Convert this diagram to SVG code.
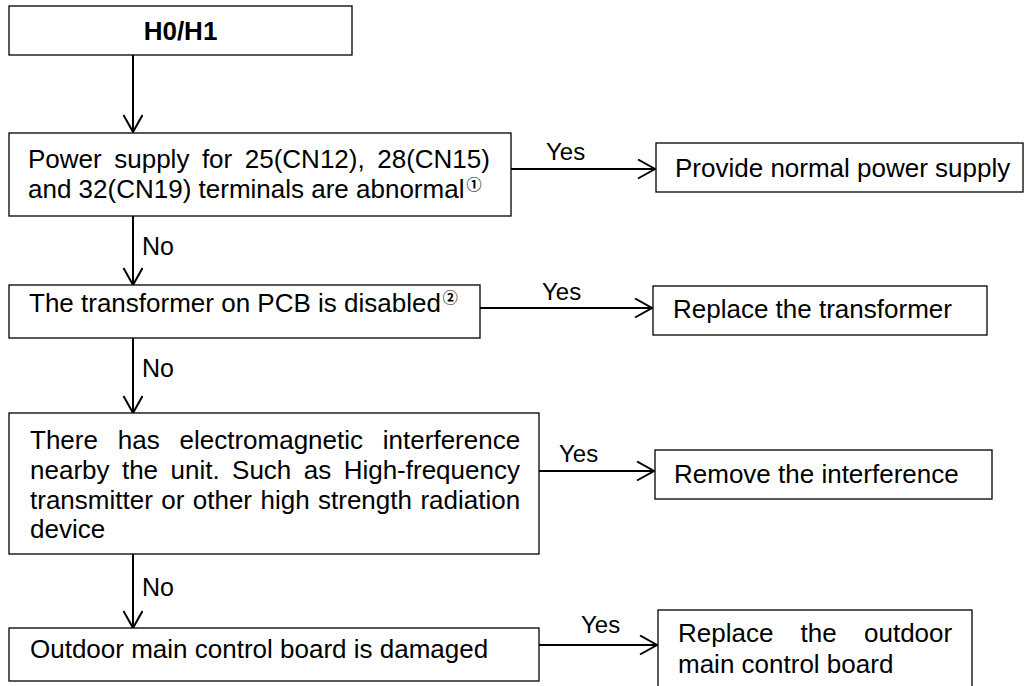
<svg xmlns="http://www.w3.org/2000/svg" width="1027" height="686" viewBox="0 0 1027 686">
<style>
.box{fill:#fff;stroke:#000;stroke-width:1.3}
.t{font-family:"Liberation Sans",Arial,sans-serif;font-size:26px;fill:#000}
.b{font-weight:bold}
.lbl{font-family:"Liberation Sans",Arial,sans-serif;font-size:24px;fill:#000}
.no{font-family:"Liberation Sans",Arial,sans-serif;font-size:25px;fill:#000}
.sup{font-family:"Noto Sans CJK SC","DejaVu Sans",sans-serif;font-size:15px;font-weight:bold}
.c{fill:none;stroke:#000;stroke-width:2}
</style>
<defs>
<marker id="arr" markerUnits="userSpaceOnUse" markerWidth="22" markerHeight="22" refX="18" refY="10" orient="auto" viewBox="0 0 22 22">
<path d="M1,0.5 L18,10 L1,19.5" fill="none" stroke="#000" stroke-width="2"/>
</marker>
</defs>
<g id="connectors">
<line class="c" x1="133" y1="55" x2="133" y2="132" marker-end="url(#arr)"/>
<line class="c" x1="133" y1="216" x2="133" y2="285" marker-end="url(#arr)"/>
<line class="c" x1="133" y1="338" x2="133" y2="413" marker-end="url(#arr)"/>
<line class="c" x1="133" y1="554" x2="133" y2="628" marker-end="url(#arr)"/>
<line class="c" x1="511" y1="169" x2="655" y2="169" marker-end="url(#arr)"/>
<line class="c" x1="480" y1="308" x2="652" y2="308" marker-end="url(#arr)"/>
<line class="c" x1="539" y1="471" x2="654" y2="471" marker-end="url(#arr)"/>
<line class="c" x1="539" y1="645" x2="657" y2="645" marker-end="url(#arr)"/>
<text class="lbl" x="546" y="160">Yes</text>
<text class="lbl" x="542" y="300">Yes</text>
<text class="lbl" x="559" y="462">Yes</text>
<text class="lbl" x="581" y="633">Yes</text>
<text class="no" x="142" y="255">No</text>
<text class="no" x="142" y="377">No</text>
<text class="no" x="142" y="596">No</text>
</g>
<g id="start">
<rect class="box" x="9" y="6" width="343" height="49"/>
<text class="t b" x="180.5" y="40" text-anchor="middle">H0/H1</text>
</g>
<g id="q1">
<rect class="box" x="9" y="133" width="502" height="83"/>
<text class="t" x="28" y="168" word-spacing="5.3">Power supply for 25(CN12), 28(CN15)</text>
<text class="t" x="28" y="198">and 32(CN19) terminals are abnormal<tspan class="sup" dx="2" dy="-8">①</tspan></text>
</g>
<g id="a1">
<rect class="box" x="656" y="143" width="367" height="49"/>
<text class="t" x="675" y="177">Provide normal power supply</text>
</g>
<g id="q2">
<rect class="box" x="9" y="285" width="471" height="53"/>
<text class="t" x="29" y="312">The transformer on PCB is disabled<tspan class="sup" dx="2" dy="-9">②</tspan></text>
</g>
<g id="a2">
<rect class="box" x="653" y="286" width="334" height="49"/>
<text class="t" x="673" y="318">Replace the transformer</text>
</g>
<g id="q3">
<rect class="box" x="9" y="413" width="530" height="141"/>
<text class="t" x="30" y="449" word-spacing="12.6">There has electromagnetic interference</text>
<text class="t" x="30" y="479" word-spacing="5.2">nearby the unit. Such as High-frequency</text>
<text class="t" x="30" y="509" word-spacing="1.2">transmitter or other high strength radiation</text>
<text class="t" x="30" y="538">device</text>
</g>
<g id="a3">
<rect class="box" x="655" y="450" width="337" height="49"/>
<text class="t" x="674" y="483">Remove the interference</text>
</g>
<g id="q4">
<rect class="box" x="9" y="628" width="530" height="53"/>
<text class="t" x="30" y="658">Outdoor main control board is damaged</text>
</g>
<g id="a4">
<rect class="box" x="658" y="610" width="314" height="82"/>
<text class="t" x="678" y="642" word-spacing="20">Replace the outdoor</text>
<text class="t" x="678" y="673">main control board</text>
</g>
</svg>
